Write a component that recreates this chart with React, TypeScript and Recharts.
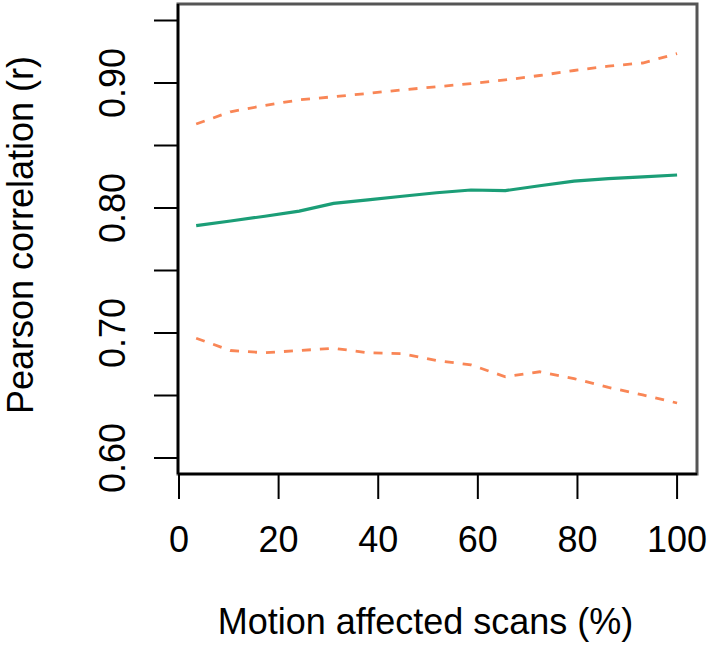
import React from "react";
import { LineChart, Line, XAxis, YAxis, ReferenceArea } from "recharts";

const xValues = [3.45, 10.34, 17.24, 24.14, 31.03, 37.93, 44.83, 51.72, 58.62, 65.52, 72.41, 79.31, 86.21, 93.1, 100];
const meanR = [0.7859, 0.7896, 0.7934, 0.7975, 0.8037, 0.8065, 0.8094, 0.8122, 0.8144, 0.8139, 0.8178, 0.8215, 0.8235, 0.8249, 0.8264];
const upperR = [0.8672, 0.877, 0.882, 0.8865, 0.889, 0.8917, 0.8945, 0.897, 0.8995, 0.9025, 0.906, 0.91, 0.9135, 0.916, 0.9235];
const lowerR = [0.6958, 0.686, 0.6842, 0.686, 0.6878, 0.6842, 0.6835, 0.678, 0.6745, 0.665, 0.669, 0.6635, 0.6565, 0.6505, 0.644];

const xTicks = [0, 20, 40, 60, 80, 100];
const yTicks = [0.6, 0.65, 0.7, 0.75, 0.8, 0.85, 0.9, 0.95];
const yLabelTicks = [0.6, 0.7, 0.8, 0.9];

const xDomain: [number, number] = [-0.2, 104];
const yDomain: [number, number] = [0.5872, 0.9632];

const xTitle = "Motion affected scans (%)";
const yTitle = "Pearson correlation (r)";

const data = xValues.map((x, i) => ({ x, mean: meanR[i], upper: upperR[i], lower: lowerR[i] }));

const FONT = "'Liberation Sans', Arial, Helvetica, sans-serif";
const FS = 36;

const YTick = (props: any) => {
  const { x, y, payload } = props;
  const v = payload.value as number;
  if (!yLabelTicks.some((t) => Math.abs(t - v) < 1e-6)) return <g />;
  const cx = x - 27;
  return (
    <text
      x={cx}
      y={y}
      transform={`rotate(-90, ${cx}, ${y})`}
      textAnchor="middle"
      fontSize={FS}
      fontFamily={FONT}
      fill="#000"
    >
      {v.toFixed(2)}
    </text>
  );
};

const XTick = (props: any) => {
  const { x, y, payload } = props;
  return (
    <text x={x} y={y + 51} textAnchor="middle" fontSize={FS} fontFamily={FONT} fill="#000">
      {String(payload.value)}
    </text>
  );
};

const XTitle = (props: any) => {
  const vb = props.viewBox || {};
  const cx = vb.x + vb.width / 2 - 12;
  return (
    <text x={cx} y={vb.y + 160} textAnchor="middle" fontSize={FS} fontFamily={FONT} fill="#000">
      {xTitle}
    </text>
  );
};

const YTitle = (props: any) => {
  const vb = props.viewBox || {};
  const cx = vb.x + 33;
  const cy = vb.y + vb.height / 2 - 4;
  return (
    <text
      x={cx}
      y={cy}
      transform={`rotate(-90, ${cx}, ${cy})`}
      textAnchor="middle"
      fontSize={FS}
      fontFamily={FONT}
      fill="#000"
    >
      {yTitle}
    </text>
  );
};

export default function App() {
  return (
    <div style={{ position: "absolute", left: 0, top: 0, background: "#fff" }}>
      <LineChart width={709} height={661} data={data} margin={{ top: 4, right: 12, left: 0, bottom: 0 }}>
        <ReferenceArea
          xAxisId="main"
          yAxisId="main"
          x1={xDomain[0]}
          x2={xDomain[1]}
          y1={yDomain[0]}
          y2={yDomain[1]}
          fill="none"
          fillOpacity={0}
          stroke="#555"
          strokeWidth={3}
          ifOverflow="visible"
        />
        <XAxis
          xAxisId="main"
          dataKey="x"
          type="number"
          domain={xDomain}
          allowDataOverflow
          ticks={xTicks}
          interval={0}
          height={187}
          tickSize={25}
          tickLine={{ stroke: "#000", strokeWidth: 2 }}
          axisLine={{ stroke: "#000", strokeWidth: 2.5 }}
          tick={<XTick />}
          label={<XTitle />}
        />
        <YAxis
          yAxisId="main"
          type="number"
          domain={yDomain}
          allowDataOverflow
          ticks={yTicks}
          interval={0}
          width={178}
          tickSize={24}
          tickLine={{ stroke: "#000", strokeWidth: 2 }}
          axisLine={{ stroke: "#000", strokeWidth: 2.5 }}
          tick={<YTick />}
          label={<YTitle />}
        />
        <Line
          xAxisId="main"
          yAxisId="main"
          type="linear"
          dataKey="upper"
          stroke="#F98656"
          strokeWidth={2.8}
          strokeDasharray="9 9"
          dot={false}
          activeDot={false}
          isAnimationActive={false}
        />
        <Line
          xAxisId="main"
          yAxisId="main"
          type="linear"
          dataKey="lower"
          stroke="#F98656"
          strokeWidth={2.8}
          strokeDasharray="9 9"
          dot={false}
          activeDot={false}
          isAnimationActive={false}
        />
        <Line
          xAxisId="main"
          yAxisId="main"
          type="linear"
          dataKey="mean"
          stroke="#1B9E77"
          strokeWidth={3.2}
          dot={false}
          activeDot={false}
          isAnimationActive={false}
        />
      </LineChart>
    </div>
  );
}
